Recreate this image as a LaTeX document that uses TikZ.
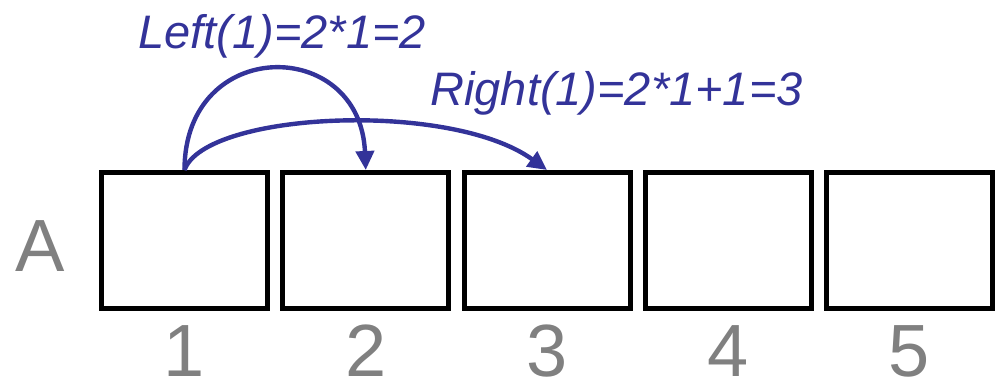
\documentclass[tikz,border=0pt]{standalone}
\usepackage{fontspec}
\setmainfont{Liberation Sans}
\usetikzlibrary{arrows.meta}
\definecolor{arrblue}{RGB}{51,51,153}
\definecolor{labgray}{RGB}{128,128,128}
\tikzset{
  cell/.style={draw=black, line width=2.5pt, inner sep=0pt, minimum width=83pt, minimum height=68pt},
  idx/.style={text=labgray, inner sep=0pt, anchor=base, text depth=0pt, font=\fontsize{37pt}{40pt}\selectfont},
  lab/.style={text=arrblue, inner sep=0pt, anchor=base west, font=\fontsize{23.5pt}{26pt}\selectfont\itshape},
  link/.style={draw=arrblue, line width=2.2pt, -{Triangle[length=9.5pt,width=9pt]}}
}
\begin{document}
\begin{tikzpicture}[x=0.5pt,y=-0.5pt]
\useasboundingbox (0,0) rectangle (1000,380);
\foreach \i in {1,...,5}{
  \node[cell] (b\i) at ({184.5+181.25*(\i-1)},240.5) {};
  \node[idx] (n\i) at ({184.5+181.25*(\i-1)},376) {\i};
}
\node[idx] (A) at (40,271) {A};
\node[lab] (lleft) at (138,48) {Left(1)=2*1=2};
\node[lab] (lright) at (430,105) {Right(1)=2*1+1=3};
\draw[link] (b1.north) .. controls (184.5,36) and (360,36) .. (b2.north);
\draw[link] (b1.north) .. controls (205,112) and (450,100) .. (b3.north);
\end{tikzpicture}
\end{document}
